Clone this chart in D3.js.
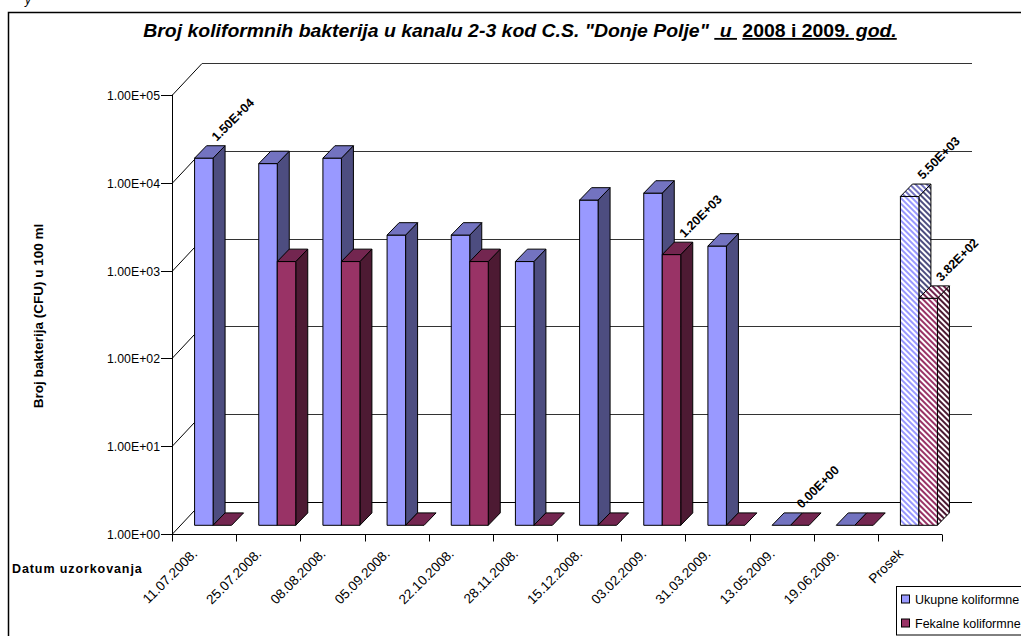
<!DOCTYPE html>
<html>
<head>
<meta charset="utf-8">
<script src="https://cdn.jsdelivr.net/npm/d3@7"></script>
<style>
  html, body { margin: 0; padding: 0; background: #fff; }
  svg { display: block; }
  text { font-family: "Liberation Sans", Arial, sans-serif; }
</style>
</head>
<body>
<svg id="chart" width="1021" height="636"></svg>
<script>
// ---- data ----
const categories = ["11.07.2008.", "25.07.2008.", "08.08.2008.", "05.09.2008.", "22.10.2008.", "28.11.2008.",
  "15.12.2008.", "03.02.2009.", "31.03.2009.", "13.05.2009.", "19.06.2009.", "Prosek"];
const ukupne  = [15000, 13000, 15000, 2000, 2000, 1000, 5000, 6000, 1500, 0, 0, 5500];
const fekalne = [0, 1000, 1000, 0, 1000, 0, 0, 1200, 0, 0, 0, 382];
const seriesNames = ["Ukupne koliformne bakterije", "Fekalne koliformne bakterije"];
const labeledUkupne = [0, 11];
const labeledFekalne = [7, 9, 11];
const hatchedIndex = 11;
const yTickValues = [1, 10, 100, 1000, 10000, 100000];
const yTickLabels = ["1.00E+00", "1.00E+01", "1.00E+02", "1.00E+03", "1.00E+04", "1.00E+05"];

// ---- layout ----
const svg = d3.select("#chart");
const X0 = 172, X1 = 942;
const Y0 = 534.3, Y1 = 94.7;
const WX = 30, WY = -32;         // back wall offset
const PX = 9, PY = -9;           // bar placement depth offset
const DX = 12, DY = -12.4;       // bar depth
const barW = 18.5;

const x = d3.scaleBand().domain(categories).range([X0, X1]).padding(0);
const y = d3.scaleLog().domain([1, 100000]).range([Y0, Y1]);

const colors = [
  { front: "#9999FF", top: "#7373C0", side: "#4D4D80" },
  { front: "#993366", top: "#732650", side: "#4D1A33" }
];

// hatch patterns
const defs = svg.append("defs");
function hatch(id, col) {
  const p = defs.append("pattern").attr("id", id).attr("patternUnits", "userSpaceOnUse")
    .attr("width", 4).attr("height", 4).attr("patternTransform", "rotate(-45)");
  p.append("rect").attr("width", 4).attr("height", 4).attr("fill", "#fff");
  p.append("rect").attr("width", 2).attr("height", 4).attr("fill", col);
}
colors.forEach((c, s) => {
  ["front", "top", "side"].forEach(k => hatch(`h${s}${k}`, c[k]));
});

// outer frame
svg.append("rect").attr("x", 8.5).attr("y", 12.5).attr("width", 1040).attr("height", 660)
  .attr("fill", "none").attr("stroke", "#000").attr("stroke-width", 1.5);
svg.append("text").attr("x", 25).attr("y", 4).attr("font-size", 12).attr("font-style", "italic").text("y");

// title
const title = svg.append("text").attr("transform", "translate(520,37) scale(1.08,1)").attr("text-anchor", "middle")
  .attr("font-size", 18).attr("font-weight", "bold").attr("font-style", "italic");
title.append("tspan").text('Broj koliformnih bakterija u kanalu 2-3 kod C.S. "Donje Polje" ');
title.append("tspan").attr("text-decoration", "underline").attr("xml:space", "preserve").text(" u ");
title.append("tspan").attr("xml:space", "preserve").text(" ");
title.append("tspan").attr("text-decoration", "underline").attr("font-style", "normal").text("2008 i 2009");
title.append("tspan").attr("text-decoration", "underline").text(". god.");

// walls / gridlines
const grid = svg.append("g").attr("stroke", "#000").attr("stroke-width", 1).attr("fill", "none");
yTickValues.forEach(v => {
  const yy = Math.round(y(v)) + 0.5;
  grid.append("line").attr("x1", X0).attr("y1", yy).attr("x2", X0 + WX).attr("y2", yy + WY);
  grid.append("line").attr("x1", X0 + WX).attr("y1", yy + WY).attr("x2", X1 + WX).attr("y2", yy + WY)
    .attr("stroke", v === 1 ? "#000" : "#333");
});

// y axis
const yAxisG = svg.append("g");
yAxisG.append("line").attr("x1", X0 + 0.5).attr("x2", X0 + 0.5).attr("y1", y(1)).attr("y2", y(100000)).attr("stroke", "#000");
yTickValues.forEach((v, i) => {
  const yy = Math.round(y(v)) + 0.5;
  yAxisG.append("line").attr("x1", X0 - 11).attr("x2", X0).attr("y1", yy).attr("y2", yy).attr("stroke", "#000");
  yAxisG.append("text").attr("x", X0 - 12).attr("y", yy + 4.5).attr("text-anchor", "end")
    .attr("font-size", 12.3).text(yTickLabels[i]);
});

// x axis
const xAxisG = svg.append("g");
const yb = Math.round(y(1)) + 0.5;
xAxisG.append("line").attr("x1", X0).attr("x2", X1).attr("y1", yb).attr("y2", yb).attr("stroke", "#000");
categories.concat([null]).forEach((c, i) => {
  const xx = Math.round(c === null ? X1 : x(c)) + 0.5;
  xAxisG.append("line").attr("x1", xx).attr("x2", xx).attr("y1", yb).attr("y2", yb + 7).attr("stroke", "#000");
});
categories.forEach(c => {
  const cx = x(c) + x.bandwidth() / 2;
  xAxisG.append("text").attr("text-anchor", "end").attr("font-size", 13.5)
    .attr("transform", `translate(${cx - 6},${yb + 20}) rotate(-45)`).text(c);
});

// bars
const bars = svg.append("g").attr("stroke", "#000").attr("stroke-width", 1).attr("stroke-linejoin", "round");
const labels = [];
const seriesData = [ukupne, fekalne];
const labeledSets = [labeledUkupne, labeledFekalne];
categories.forEach((c, i) => {
  seriesData.forEach((arr, s) => {
    const v = arr[i];
    const bx = x(c) + (x.bandwidth() - 2 * barW) / 2 + s * barW + PX;
    const yBase = y(1) + PY;
    const yTop = v > 0 ? y(v) + PY : yBase;
    const hatched = i === hatchedIndex;
    const fill = k => hatched ? `url(#h${s}${k})` : colors[s][k];
    if (v > 0) {
      bars.append("polygon")
        .attr("points", [[bx + barW, yTop], [bx + barW + DX, yTop + DY], [bx + barW + DX, yBase + DY], [bx + barW, yBase]].join(" "))
        .attr("fill", fill("side"));
      bars.append("rect").attr("x", bx).attr("y", yTop).attr("width", barW).attr("height", yBase - yTop)
        .attr("fill", fill("front"));
    }
    bars.append("polygon")
      .attr("points", [[bx, yTop], [bx + DX, yTop + DY], [bx + barW + DX, yTop + DY], [bx + barW, yTop]].join(" "))
      .attr("fill", fill("top"));
    if (labeledSets[s].includes(i)) {
      labels.push({ x: bx + barW / 2 + (v > 0 ? 13 : 2), y: yTop + DY - 4, v });
    }
  });
});

function fmtE(v) {
  if (v === 0) return "0.00E+00";
  const e = Math.floor(Math.log10(v));
  const m = v / Math.pow(10, e);
  return m.toFixed(2) + "E" + (e >= 0 ? "+" : "-") + String(Math.abs(e)).padStart(2, "0");
}
svg.append("g").selectAll("text").data(labels).join("text")
  .attr("transform", d => `translate(${d.x},${d.y}) rotate(-45)`)
  .attr("font-size", 12.5).attr("font-weight", "bold").text(d => fmtE(d.v));

// axis titles
svg.append("text").attr("transform", "translate(43,316) rotate(-90)").attr("text-anchor", "middle")
  .attr("font-size", 13.5).attr("font-weight", "bold").text("Broj bakterija (CFU) u 100 ml");
svg.append("text").attr("x", 12).attr("y", 573).attr("font-size", 12.5).attr("font-weight", "bold")
  .attr("letter-spacing", 0.9).text("Datum uzorkovanja");

// legend
const lg = svg.append("g");
lg.append("rect").attr("x", 896.5).attr("y", 586.5).attr("width", 200).attr("height", 48.5)
  .attr("fill", "#fff").attr("stroke", "#000");
seriesNames.forEach((n, s) => {
  const ly = 599 + s * 24;
  lg.append("rect").attr("x", 901.5).attr("y", ly - 4).attr("width", 8).attr("height", 8)
    .attr("fill", colors[s].front).attr("stroke", "#000");
  lg.append("text").attr("x", 915).attr("y", ly + 4.5).attr("font-size", 12.5).text(n);
});
</script>
</body>
</html>
